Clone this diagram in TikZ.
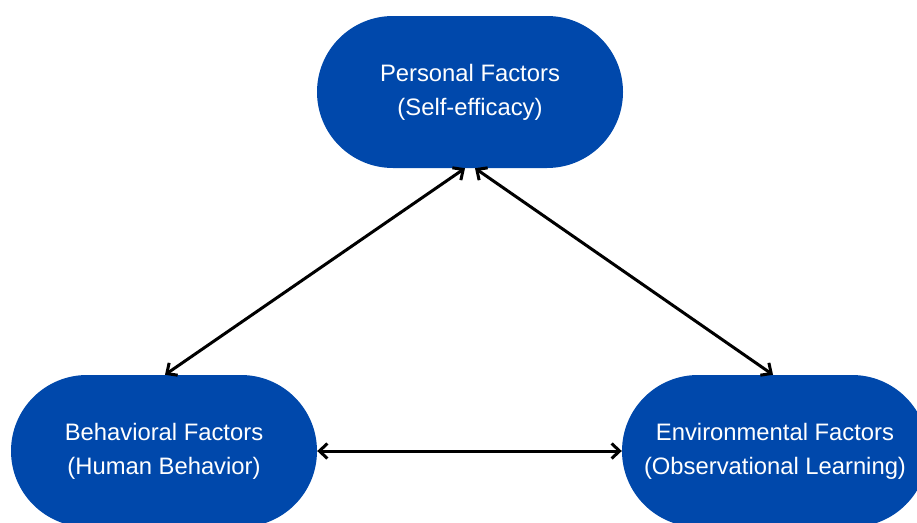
\documentclass[tikz,border=0pt]{standalone}
\usepackage{fontspec}
\setmainfont{Liberation Sans}
\usetikzlibrary{arrows.meta}
\definecolor{factorblue}{RGB}{0,72,171}

\begin{document}
\begin{tikzpicture}[x=1pt, y=-1pt,
		factor/.style={fill=factorblue, text=white, align=center, rounded corners=76pt,
			minimum width=306pt, minimum height=152pt, inner sep=0pt,
			font=\fontsize{23.8}{34}\selectfont},
		link/.style={line width=3pt, {Straight Barb[length=8pt,width=15pt]}-{Straight Barb[length=8pt,width=15pt]}}]
		
		% Canvas
		\useasboundingbox (0,0) rectangle (917,522);
		\clip (0,0) rectangle (917,522);
		
		% Factors
		\node[factor] (personal) at (470,92) {Personal Factors\\(Self-efficacy)};
		\node[factor] (behavioral) at (164,451) {Behavioral Factors\\(Human Behavior)};
		\node[factor] (environmental) at (775,451) {Environmental Factors\\(Observational Learning)};
		
		% Reciprocal links
		\draw[link] ([xshift=-5pt]personal.south) -- ([xshift=1pt]behavioral.north);
		\draw[link] ([xshift=5pt]personal.south) -- ([xshift=-2pt]environmental.north);
		\draw[link] (behavioral.east) -- (environmental.west);
		
	\end{tikzpicture}
\end{document}
